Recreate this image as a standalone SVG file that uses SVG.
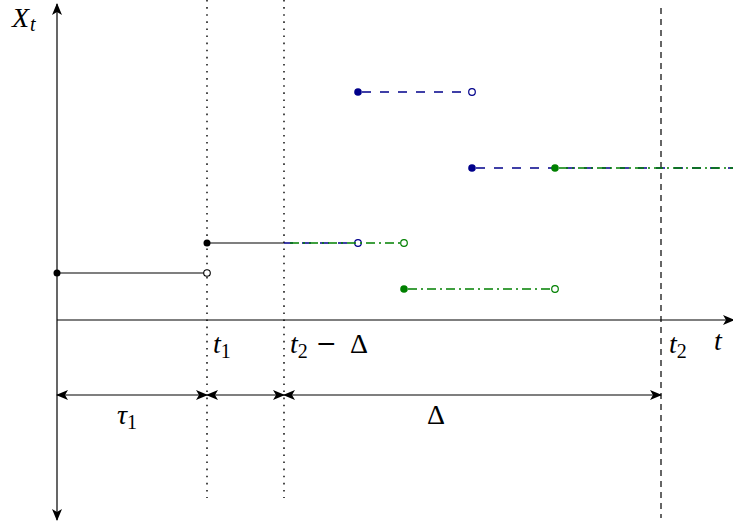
<svg xmlns="http://www.w3.org/2000/svg" width="733" height="525" viewBox="0 0 733 525">
<style>
.ax{stroke:#000;stroke-width:1.2;fill:none}
.dot{stroke:#000;stroke-width:1.4;stroke-dasharray:1.6 5.5}
.dash{stroke:#000;stroke-width:1.2;stroke-dasharray:6 5}
.blk{stroke:#000;stroke-width:1.1}
.bl{stroke:#00008b;stroke-width:1.3;stroke-dasharray:9 9}
.gr{stroke:#008000;stroke-width:1.3;stroke-dasharray:9 4 2 4}
.lbl{font-family:"Liberation Serif",serif;font-style:italic;font-size:28px;fill:#000}
.sub{font-family:"Liberation Serif",serif;font-size:20px;fill:#000}
.up{font-family:"Liberation Serif",serif;font-size:28px;fill:#000}
.mn{font-family:"DejaVu Serif",serif;font-size:25px;fill:#000}
</style>
<defs>
<marker id="ah" viewBox="0 0 12 10" refX="11" refY="5" markerWidth="12" markerHeight="10" markerUnits="userSpaceOnUse" orient="auto-start-reverse">
<path d="M0,0 L12,5 L0,10 L3,5 Z" fill="#000"/>
</marker>
</defs>
<g id="guides">
<line class="dot" x1="207" y1="0" x2="207" y2="498"/>
<line class="dot" x1="284" y1="0" x2="284" y2="498"/>
<line class="dash" x1="661" y1="8" x2="661" y2="518"/>
</g>
<g id="axes">
<line class="ax" x1="57" y1="520" x2="57" y2="4" marker-end="url(#ah)" marker-start="url(#ah)"/>
<line class="ax" x1="57" y1="320" x2="734" y2="320" marker-end="url(#ah)"/>
</g>
<g id="connectors">
<line class="ax" x1="57" y1="395" x2="207" y2="395" marker-start="url(#ah)" marker-end="url(#ah)"/>
<line class="ax" x1="207" y1="395" x2="284" y2="395" marker-start="url(#ah)" marker-end="url(#ah)"/>
<line class="ax" x1="284" y1="395" x2="661" y2="395" marker-start="url(#ah)" marker-end="url(#ah)"/>
</g>
<g id="black-path">
<line class="blk" x1="57" y1="273" x2="207" y2="273"/>
<line class="blk" x1="207" y1="243" x2="284" y2="243"/>
<circle cx="57" cy="273" r="3.5" fill="#000"/>
<circle cx="207" cy="273" r="3.3" fill="#fff" stroke="#000" stroke-width="1.1"/>
<circle cx="207" cy="243" r="3.5" fill="#000"/>
</g>
<g id="blue-path">
<line class="bl" x1="284" y1="243" x2="355" y2="243"/>
<line class="bl" x1="362" y1="92" x2="469" y2="92"/>
<line class="bl" x1="476" y1="168" x2="733" y2="168"/>
<circle cx="358" cy="243" r="3.3" fill="#fff" stroke="#00008b" stroke-width="1.2"/>
<circle cx="358" cy="92" r="3.8" fill="#00008b"/>
<circle cx="472" cy="92" r="3.3" fill="#fff" stroke="#00008b" stroke-width="1.2"/>
<circle cx="472" cy="168" r="3.8" fill="#00008b"/>
</g>
<g id="green-path">
<line class="gr" x1="290" y1="243" x2="401" y2="243"/>
<line class="gr" x1="408" y1="289" x2="552" y2="289"/>
<line class="gr" x1="559" y1="168" x2="733" y2="168"/>
<circle cx="404" cy="243" r="3.3" fill="#fff" stroke="#008000" stroke-width="1.2"/>
<circle cx="404" cy="289" r="3.8" fill="#008000"/>
<circle cx="555" cy="289" r="3.3" fill="#fff" stroke="#008000" stroke-width="1.2"/>
<circle cx="555" cy="168" r="3.8" fill="#008000"/>
</g>
<g id="labels">
<text class="lbl" x="12" y="27">X<tspan class="sub" dx="1" dy="4">t</tspan></text>
<text class="lbl" x="213" y="353">t<tspan class="sub" style="font-style:normal" dy="5">1</tspan></text>
<text class="lbl" x="290" y="353">t<tspan class="sub" style="font-style:normal" dy="5">2</tspan></text>
<text class="mn" x="316" y="352">−</text>
<text class="up" x="350" y="353">Δ</text>
<text class="lbl" x="669" y="353">t<tspan class="sub" style="font-style:normal" dy="5">2</tspan></text>
<text class="lbl" x="714" y="350">t</text>
<text class="lbl" x="117" y="424">τ<tspan class="sub" style="font-style:normal" dy="5">1</tspan></text>
<text class="up" x="427" y="424">Δ</text>
</g>
</svg>
